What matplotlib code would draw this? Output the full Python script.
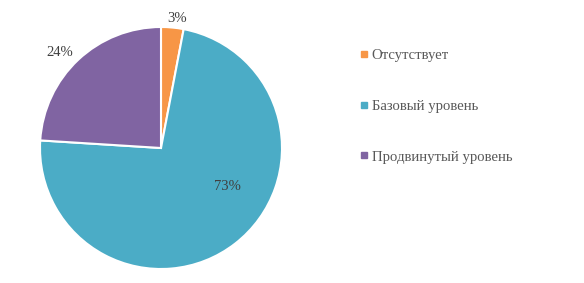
import matplotlib
matplotlib.use("Agg")
import matplotlib.pyplot as plt
from matplotlib.lines import Line2D
import numpy as np

categories = ["Отсутствует", "Базовый уровень", "Продвинутый уровень"]
values = [3, 73, 24]
labels = ["3%", "73%", "24%"]
colors = ["#F79646", "#4BACC6", "#8064A2"]

plt.rcParams['font.family'] = ['Liberation Serif', 'DejaVu Serif']

fig = plt.figure(figsize=(5.84, 2.83), dpi=100)
W, H = 584, 283
cx, cy, r = 161, 135, 121
ax = fig.add_axes([(cx - r) / W, (cy - r) / H, 2 * r / W, 2 * r / H])
wedges, _ = ax.pie(values, colors=colors, startangle=90, counterclock=False,
                   radius=1.0, wedgeprops=dict(edgecolor="white", linewidth=1.5))
ax.set_xlim(-1, 1)
ax.set_ylim(-1, 1)
ax.set_aspect('equal')
ax.axis('off')

# label positions (polar: radius fraction, angle degrees)
label_pos = [(1.08, 83), (0.63, -30), (1.15, 136.5)]
for lab, (rr, ang) in zip(labels, label_pos):
    a = np.deg2rad(ang)
    ax.text(rr * np.cos(a), rr * np.sin(a), lab, ha='center', va='center',
            fontsize=10.5, color='#404040')

handles = [Line2D([], [], marker='s', linestyle='none', markersize=5,
                  markerfacecolor=c, markeredgecolor=c) for c in colors]
fig.legend(handles, categories, loc='center left',
           bbox_to_anchor=(352 / W, 1 - 106 / H), frameon=False,
           fontsize=10.6, labelcolor='#595959', handlelength=0.6,
           handletextpad=0.25, labelspacing=2.55, borderpad=0)
fig.savefig("out.png", dpi=100)
